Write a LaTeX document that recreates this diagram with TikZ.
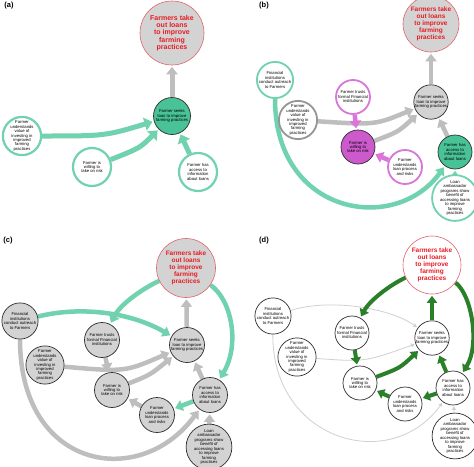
\documentclass[tikz,border=0pt]{standalone}
\usepackage{fontspec}
\setmainfont{Liberation Sans}
\usetikzlibrary{arrows.meta}
\pgfdeclarelayer{background}
\pgfsetlayers{background,main}
\definecolor{tealA}{RGB}{112,210,174}
\definecolor{tealF}{RGB}{72,194,150}
\definecolor{gfill}{RGB}{211,211,211}
\definecolor{garrow}{RGB}{190,190,190}
\definecolor{gborder}{RGB}{150,150,150}
\definecolor{magB}{RGB}{218,118,218}
\definecolor{magF}{RGB}{204,90,204}
\definecolor{redT}{RGB}{232,28,36}
\definecolor{redB}{RGB}{226,98,108}
\definecolor{dgreen}{RGB}{42,128,42}
\definecolor{lgray}{RGB}{208,208,208}
\definecolor{darkB}{RGB}{45,45,45}
\begin{document}
\begin{tikzpicture}[x=1pt,y=-1pt,
  nd/.style={circle,inner sep=0pt,align=center,text=black,font=\fontsize{4.2}{4.45}\selectfont,minimum size=34pt},
  big/.style={circle,inner sep=0pt,align=center,text=redT,draw=redB,line width=0.6pt,fill=gfill,font=\bfseries\fontsize{6.5}{7}\selectfont},
  wT/.style={fill=white,draw=tealA,line width=1.8pt},
  wM/.style={fill=white,draw=magB,line width=1.8pt},
  wG/.style={fill=white,draw=gborder,line width=1.8pt},
  fT/.style={fill=tealF,draw=darkB,line width=0.7pt},
  fM/.style={fill=magF,draw=darkB,line width=0.7pt},
  fG/.style={fill=gfill,draw=darkB,line width=0.7pt},
  fW/.style={fill=white,draw=darkB,line width=0.7pt},
  lab/.style={font=\bfseries\fontsize{7.5}{8}\selectfont,inner sep=0pt},
  ar/.style={line width=4.5pt,-{Triangle[width=11pt,length=7.5pt]},shorten >=1.5pt},
  tA/.style={ar,draw=tealA},
  gA/.style={ar,draw=garrow},
  mA/.style={ar,draw=magB},
  dA/.style={line width=4pt,draw=dgreen,-{Triangle[width=10pt,length=7pt]},shorten >=1.5pt},
  lA/.style={line width=0.8pt,draw=lgray,-{Triangle[width=4pt,length=3.5pt]},shorten >=1pt}
]
\useasboundingbox (0,0) rectangle (474,466);
\begin{pgfonlayer}{background}
\fill[white] (0,0) rectangle (474,466);
\end{pgfonlayer}

% ---------------- panel (a)
\node[lab] (la) at (9,6) {(a)};
\node[big,minimum size=64pt,font=\bfseries\fontsize{7}{7.4}\selectfont] (bigA) at (172,33) {Farmers take\\out loans\\to improve\\farming\\practices};
\node[nd,fT,minimum size=37pt] (seekA) at (172,116) {Farmer seeks\\loan to improve\\farming practices};
\node[nd,wT,line width=2.2pt,minimum size=38pt] (undA) at (22,136) {Farmer\\understands\\value of\\investing in\\improved\\farming\\practices};
\node[nd,wT,line width=2.2pt,minimum size=38pt] (wilA) at (92,167) {Farmer is\\willing to\\take on risk};
\node[nd,wT,line width=2.2pt,minimum size=38pt] (accA) at (198,172) {Farmer has\\access to\\information\\about loans};
\begin{pgfonlayer}{background}
\draw[gA,line width=5pt] (seekA) -- (bigA);
\draw[tA,line width=5pt,-{Triangle[width=13pt,length=8pt]}] (undA) .. controls (105,136) .. (seekA);
\draw[tA,line width=5pt,-{Triangle[width=13pt,length=8pt]}] (wilA) .. controls (140,148) .. (seekA);
\draw[tA,line width=5pt,-{Triangle[width=13pt,length=8pt]}] (accA) -- (seekA);
\end{pgfonlayer}

% ---------------- panel (b)
\node[lab] (lb) at (264,6) {(b)};
\node[big,minimum size=56pt] (bigB) at (431,24) {Farmers take\\out loans\\to improve\\farming\\practices};
\node[nd,fG] (seekB) at (431,102) {Farmer seeks\\loan to improve\\farming practices};
\node[nd,wT] (finB) at (275,80) {Financial\\institutions\\conduct outreach\\to Farmers};
\node[nd,wM] (trustB) at (353,97) {Farmer trusts\\formal Financial\\institutions};
\node[nd,wG] (undB) at (298,120) {Farmer\\understands\\value of\\investing in\\improved\\farming\\practices};
\node[nd,fM] (wilB) at (358,147) {Farmer is\\willing to\\take on risk};
\node[nd,wM] (procB) at (405,167) {Farmer\\understands\\loan process\\and risks};
\node[nd,fT] (accB) at (455,152) {Farmer has\\access to\\information\\about loans};
\node[nd,wT] (ambB) at (455,198) {Loan\\ambassador\\programs show\\benefit of\\accessing loans\\to improve\\farming\\practices};
\begin{pgfonlayer}{background}
\draw[gA] (seekB) -- (bigB);
\draw[gA] (undB) .. controls (375,125) .. (seekB);
\draw[gA] (wilB) .. controls (398,132) .. (seekB);
\draw[gA] (accB) -- (seekB);
\draw[mA] (trustB) -- (wilB);
\draw[mA] (procB) -- (wilB);
\draw[tA] (finB) .. controls (275,215) and (395,235) .. (accB);
\draw[tA] (ambB) -- (accB);
\end{pgfonlayer}

% ---------------- panel (c)
\node[lab] (lc) at (8,241) {(c)};
\node[big,minimum size=59pt] (bigC) at (186,268) {Farmers take\\out loans\\to improve\\farming\\practices};
\node[nd,fG,minimum size=35pt] (finC) at (20,321) {Financial\\institutions\\conduct outreach\\to Farmers};
\node[nd,fG,minimum size=35pt] (trustC) at (102,340) {Farmer trusts\\formal Financial\\institutions};
\node[nd,fG,minimum size=35pt] (seekC) at (187,345) {Farmer seeks\\loan to improve\\farming practices};
\node[nd,fG,minimum size=35pt] (undC) at (45,365) {Farmer\\understands\\value of\\investing in\\improved\\farming\\practices};
\node[nd,fG,minimum size=35pt] (wilC) at (112,390) {Farmer is\\willing to\\take on risk};
\node[nd,fG,minimum size=35pt] (accC) at (210,395) {Farmer has\\access to\\information\\about loans};
\node[nd,fG,minimum size=35pt] (procC) at (157,415) {Farmer\\understands\\loan process\\and risks};
\node[nd,fG,minimum size=35pt] (ambC) at (209,447) {Loan\\ambassador\\programs show\\benefit of\\accessing loans\\to improve\\farming\\practices};
\begin{pgfonlayer}{background}
\draw[gA] (seekC) -- (bigC);
\draw[tA] (finC) .. controls (80,306) and (130,312) .. (seekC);
\draw[tA] (bigC) .. controls (140,290) and (120,305) .. (trustC);
\draw[tA] (bigC) .. controls (232,300) and (240,345) .. (accC);
\draw[gA] (undC) .. controls (125,372) .. (seekC);
\draw[gA] (trustC) -- (wilC);
\draw[gA] (wilC) .. controls (150,375) .. (seekC);
\draw[gA] (accC) -- (seekC);
\draw[gA] (procC) -- (wilC);
\draw[tA] (accC) -- (procC);
\draw[gA] (ambC) -- (accC);
\draw[gA] (finC) .. controls (20,470) and (140,490) .. (accC);
\end{pgfonlayer}

% ---------------- panel (d)
\node[lab] (ld) at (264,241) {(d)};
\node[big,fill=white,minimum size=58pt] (bigD) at (432,265) {Farmers take\\out loans\\to improve\\farming\\practices};
\node[nd,fW] (finD) at (273,316) {Financial\\institutions\\conduct outreach\\to Farmers};
\node[nd,fW] (trustD) at (352,333) {Farmer trusts\\formal Financial\\institutions};
\node[nd,fW] (seekD) at (432,338) {Farmer seeks\\loan to improve\\farming practices};
\node[nd,fW] (undD) at (297,357) {Farmer\\understands\\value of\\investing in\\improved\\farming\\practices};
\node[nd,fW] (wilD) at (360,383) {Farmer is\\willing to\\take on risk};
\node[nd,fW] (accD) at (453,388) {Farmer has\\access to\\information\\about loans};
\node[nd,fW] (procD) at (405,404) {Farmer\\understands\\loan process\\and risks};
\node[nd,fW] (ambD) at (455,436) {Loan\\ambassador\\programs show\\benefit of\\accessing loans\\to improve\\farming\\practices};
\begin{pgfonlayer}{background}
\draw[lA] (finD) .. controls (330,298) and (390,308) .. (seekD);
\draw[lA] (undD) .. controls (365,362) .. (seekD);
\draw[lA] (finD) .. controls (272,440) and (390,475) .. (accD);
\draw[lA] (ambD) -- (accD);
\draw[dA] (seekD) -- (bigD);
\draw[dA] (bigD) .. controls (390,285) and (370,300) .. (trustD);
\draw[dA] (bigD) .. controls (472,295) and (480,345) .. (accD);
\draw[dA] (trustD) -- (wilD);
\draw[dA] (wilD) .. controls (400,368) .. (seekD);
\draw[dA] (accD) -- (seekD);
\draw[dA] (accD) -- (procD);
\draw[dA] (procD) -- (wilD);
\end{pgfonlayer}
\end{tikzpicture}
\end{document}
